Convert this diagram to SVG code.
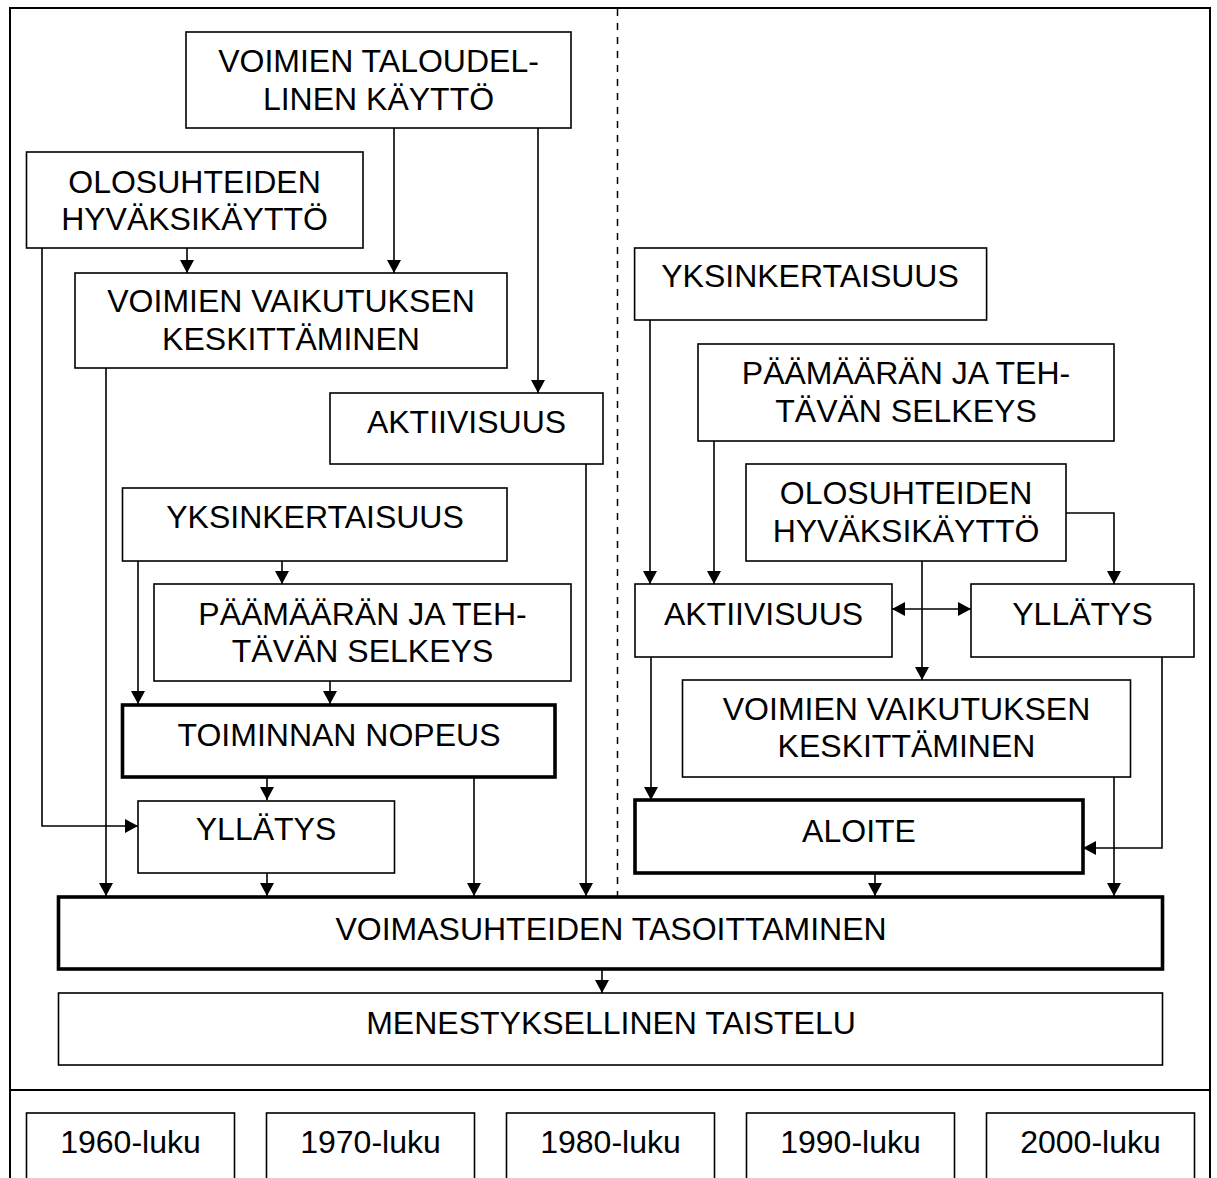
<svg xmlns="http://www.w3.org/2000/svg" width="1217" height="1178" viewBox="0 0 1217 1178">
<defs>
<style>
.b{fill:#fff;stroke:#000;stroke-width:1.6}
.t{fill:#fff;stroke:#000;stroke-width:3.6}
text{font-family:"Liberation Sans",Arial,sans-serif;font-size:32px;fill:#000;text-anchor:middle}
.c{fill:none;stroke:#000;stroke-width:1.6;marker-end:url(#ah)}
</style>
<marker id="ah" markerUnits="userSpaceOnUse" markerWidth="14" markerHeight="14" refX="13" refY="7" orient="auto-start-reverse"><path d="M0,0 L13,7 L0,14 z" fill="#000"/></marker>
</defs>
<rect width="1217" height="1178" fill="#fff"/>
<g id="frame">
<rect x="10" y="8" width="1200" height="1200" fill="none" stroke="#000" stroke-width="2"/>
<line x1="10" y1="1090" x2="1210" y2="1090" stroke="#000" stroke-width="2"/>
<line x1="617.5" y1="9" x2="617.5" y2="896" stroke="#000" stroke-width="1.5" stroke-dasharray="7 7"/>
</g>
<g id="connectors">
<path class="c" d="M394,128 V273"/>
<path class="c" d="M538,128 V393"/>
<path class="c" d="M187,248 V273"/>
<path class="c" d="M42,248 V826 H138"/>
<path class="c" d="M106,368 V896"/>
<path class="c" d="M586,464 V896"/>
<path class="c" d="M138,561 V704"/>
<path class="c" d="M282,561 V584"/>
<path class="c" d="M330,681 V704"/>
<path class="c" d="M267,777 V800"/>
<path class="c" d="M474,777 V896"/>
<path class="c" d="M267,873 V896"/>
<path class="c" d="M602,969 V993"/>
<path class="c" d="M650,320 V584"/>
<path class="c" d="M714,441 V584"/>
<path class="c" d="M1066,513 H1114 V584"/>
<path class="c" d="M922,561 V680"/>
<path class="c" d="M892,609 H971" marker-start="url(#ah)"/>
<path class="c" d="M651,657 V800"/>
<path class="c" d="M1162,657 V848 H1083"/>
<path class="c" d="M1114,777 V896"/>
<path class="c" d="M875,873 V896"/>
</g>
<g id="n-taloudel"><rect class="b" x="186" y="32" width="385" height="96"/><text x="378.5" y="72">VOIMIEN TALOUDEL-</text><text x="378.5" y="110">LINEN KÄYTTÖ</text></g>
<g id="n-olosuhteet-l"><rect class="b" x="26.5" y="152" width="336.5" height="96"/><text x="194.5" y="193">OLOSUHTEIDEN</text><text x="194.5" y="230">HYVÄKSIKÄYTTÖ</text></g>
<g id="n-keskittaminen-l"><rect class="b" x="75" y="273" width="432" height="95"/><text x="291" y="312">VOIMIEN VAIKUTUKSEN</text><text x="291" y="350">KESKITTÄMINEN</text></g>
<g id="n-aktiivisuus-l"><rect class="b" x="330" y="393" width="273" height="71"/><text x="466.5" y="433">AKTIIVISUUS</text></g>
<g id="n-yksinkertaisuus-l"><rect class="b" x="122.5" y="488" width="384.5" height="73"/><text x="315" y="528">YKSINKERTAISUUS</text></g>
<g id="n-selkeys-l"><rect class="b" x="154" y="584" width="417" height="97"/><text x="362.5" y="625">PÄÄMÄÄRÄN JA TEH-</text><text x="362.5" y="662">TÄVÄN SELKEYS</text></g>
<g id="n-nopeus"><rect class="t" x="122.5" y="705" width="432.5" height="72"/><text x="339" y="746">TOIMINNAN NOPEUS</text></g>
<g id="n-yllatys-l"><rect class="b" x="138" y="801" width="256.5" height="72"/><text x="266" y="840">YLLÄTYS</text></g>
<g id="n-tasoittaminen"><rect class="t" x="58.5" y="897" width="1104" height="72"/><text x="611" y="940">VOIMASUHTEIDEN TASOITTAMINEN</text></g>
<g id="n-taistelu"><rect class="b" x="58.5" y="993" width="1104" height="72"/><text x="611" y="1034">MENESTYKSELLINEN TAISTELU</text></g>
<g id="n-yksinkertaisuus-r"><rect class="b" x="634.6" y="248" width="352" height="72"/><text x="810" y="287">YKSINKERTAISUUS</text></g>
<g id="n-selkeys-r"><rect class="b" x="698" y="344" width="416" height="97"/><text x="906" y="384">PÄÄMÄÄRÄN JA TEH-</text><text x="906" y="422">TÄVÄN SELKEYS</text></g>
<g id="n-olosuhteet-r"><rect class="b" x="746" y="464" width="320" height="97"/><text x="906" y="504">OLOSUHTEIDEN</text><text x="906" y="542">HYVÄKSIKÄYTTÖ</text></g>
<g id="n-aktiivisuus-r"><rect class="b" x="635" y="584" width="257" height="73"/><text x="763.5" y="625">AKTIIVISUUS</text></g>
<g id="n-yllatys-r"><rect class="b" x="971" y="584" width="223" height="73"/><text x="1082.5" y="625">YLLÄTYS</text></g>
<g id="n-keskittaminen-r"><rect class="b" x="682.5" y="680" width="448" height="97"/><text x="906.5" y="720">VOIMIEN VAIKUTUKSEN</text><text x="906.5" y="757">KESKITTÄMINEN</text></g>
<g id="n-aloite"><rect class="t" x="635" y="800" width="448" height="73"/><text x="859" y="842">ALOITE</text></g>
<g id="n-1960"><rect class="b" x="26.5" y="1113" width="208" height="90"/><text x="130.5" y="1153">1960-luku</text></g>
<g id="n-1970"><rect class="b" x="266.5" y="1113" width="208" height="90"/><text x="370.5" y="1153">1970-luku</text></g>
<g id="n-1980"><rect class="b" x="506.5" y="1113" width="208" height="90"/><text x="610.5" y="1153">1980-luku</text></g>
<g id="n-1990"><rect class="b" x="746.5" y="1113" width="208" height="90"/><text x="850.5" y="1153">1990-luku</text></g>
<g id="n-2000"><rect class="b" x="986.5" y="1113" width="208" height="90"/><text x="1090.5" y="1153">2000-luku</text></g>
</svg>
